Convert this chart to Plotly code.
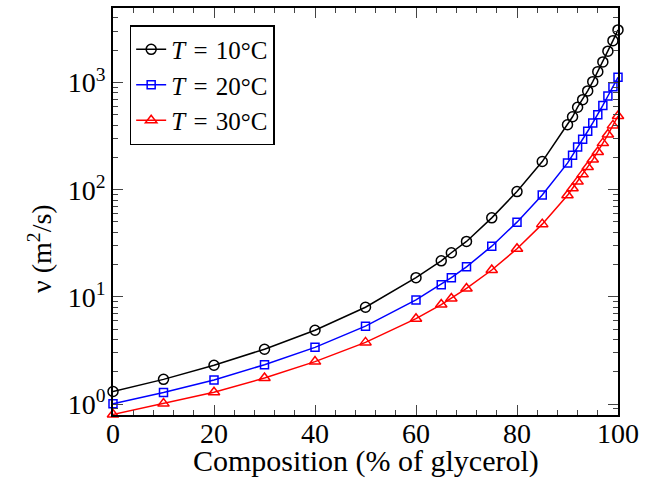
import plotly.graph_objects as go

composition = [0, 10, 20, 30, 40, 50, 60, 65, 67, 70, 75, 80, 85, 90, 91, 92, 93, 94, 95, 96, 97, 98, 99, 100]
nu_10C = [1.31, 1.70, 2.30, 3.25, 4.88, 8.0, 15.1, 21.7, 25.8, 32.9, 54.6, 96, 183, 403, 479, 588, 692, 835, 1018, 1263, 1556, 1959, 2456, 3093]
nu_20C = [1.007, 1.28, 1.68, 2.33, 3.38, 5.33, 9.37, 13.0, 15.1, 19.05, 29.7, 49.8, 89.3, 177, 209, 250, 295, 351, 419, 499, 611, 748, 914, 1118]
nu_30C = [0.80, 1.01, 1.29, 1.75, 2.49, 3.76, 6.26, 8.48, 9.67, 11.98, 17.8, 28.1, 47.7, 88.6, 103, 119, 139, 163, 191, 225, 272, 327, 398, 487]

y_tickvals = [1, 10, 100, 1000]
y_ticktext = ["10<sup>0</sup>", "10<sup>1</sup>", "10<sup>2</sup>", "10<sup>3</sup>"]
x_tickvals = [0, 20, 40, 60, 80, 100]

series = [
    ("<i>T</i> \u200a=\u200a 10°C", nu_10C, "black", "circle-open", 10),
    ("<i>T</i> \u200a=\u200a 20°C", nu_20C, "blue", "square-open", 8),
    ("<i>T</i> \u200a=\u200a 30°C", nu_30C, "red", "triangle-up-open", 10),
]

FAM = "Liberation Serif"
big = dict(family=FAM, size=28, color="black")
title_font = dict(family=FAM, size=30, color="black")
leg = dict(family=FAM, size=25, color="black")

fig = go.Figure()
for name, vals, color, sym, size in series:
    fig.add_trace(go.Scatter(
        x=composition, y=vals, name=name, mode="lines+markers",
        line=dict(color=color, width=1.5),
        marker=dict(symbol=sym, size=size, color=color, line=dict(color=color, width=1.5)),
        cliponaxis=False,
    ))

fig.update_layout(
    width=645, height=483,
    margin=dict(l=113, r=23, t=6, b=68),
    paper_bgcolor="white", plot_bgcolor="white",
    font=big,
    showlegend=True,
    legend=dict(
        x=0.033, y=0.958, xanchor="left", yanchor="top",
        bordercolor="black", borderwidth=1.5, bgcolor="white",
        font=leg, itemwidth=30, tracegroupgap=0,
    ),
    xaxis=dict(
        range=[0, 100], tickvals=x_tickvals, ticks="inside", ticklen=10, tickwidth=1.2,
        showline=True, linecolor="black", linewidth=1.5, mirror="ticks",
        showgrid=False, zeroline=False, ticklabelstandoff=-7,
        minor=dict(ticks="inside", ticklen=5, dtick=4, tickwidth=1, showgrid=False),
        tickfont=big,
    ),
    yaxis=dict(
        type="log", range=[-0.102, 3.695], tickvals=y_tickvals, ticktext=y_ticktext,
        ticks="inside", ticklen=10, tickwidth=1.2,
        showline=True, linecolor="black", linewidth=1.5, mirror="ticks",
        showgrid=False, zeroline=False,
        minor=dict(ticks="inside", ticklen=5, dtick="D1", tickwidth=1, showgrid=False),
        tickfont=big,
    ),
    annotations=[
        dict(
            text="ν (m<sup>2</sup>/s)", textangle=-90, xref="paper", yref="paper",
            x=-0.145, y=0.41, xanchor="center", yanchor="middle", showarrow=False,
            font=big,
        ),
        dict(
            text="Composition (% of glycerol)", xref="paper", yref="paper",
            x=0.5, y=-0.113, xanchor="center", yanchor="middle", showarrow=False,
            font=title_font,
        ),
    ],
)

fig.write_html("out.html", config={"displayModeBar": False},
               post_script="document.body.style.margin='0';")
